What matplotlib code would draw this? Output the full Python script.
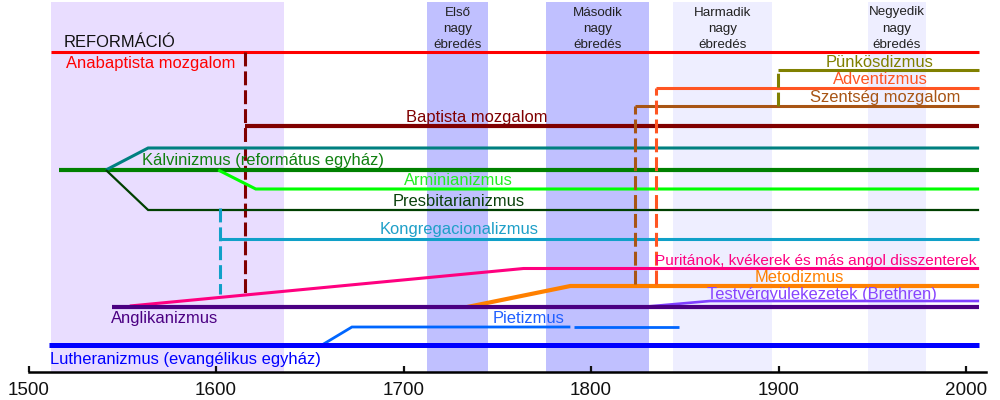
import matplotlib
matplotlib.use("Agg")
import matplotlib.pyplot as plt

plt.rcParams['font.family'] = ['Liberation Sans', 'DejaVu Sans']
plt.rcParams['lines.scale_dashes'] = False

# ---------------- data (years) ----------------
END = 2007
reformation_period = [1512, 1636]
awakening_names = [["Első", "nagy", "ébredés"],
                   ["Második", "nagy", "ébredés"],
                   ["Harmadik", "nagy", "ébredés"],
                   ["Negyedik", "nagy", "ébredés"]]
awakening_periods = [(1712.5, 1745), (1776, 1831), (1843.5, 1896.5), (1947.5, 1978.5)]

reformation_years = [1512, END]
lutheran_years = [1511, END]
pietism_years = [1656.5, 1672.5, 1789]
pietism_late_years = [1791, 1847]
anglican_years = [1544.5, END]
puritan_years = [1554, 1764, END]
methodism_years = [1734, 1789, END]
brethren_years = [1827, 1863.5, END]
calvin_years = [1516, END]
reformed_years = [1541.3, 1563.8, END]
presbyterian_years = [1541.3, 1563.8, END]
arminian_years = [1601.2, 1621.2, END]
congregational_year = 1602
congregational_years = [1602.5, END]
anabaptist_year = 1615.6
baptist_years = [1615.6, END]
holiness_years = [1823.5, END]
adventism_years = [1834.5, END]
pentecostal_years = [1899.6, END]

tick_years = [1500, 1600, 1700, 1800, 1900, 2000]

# ---------------- layout (rows in pixels from top) ----------------
ROW = dict(reform=52, pente=70, advent=88, holiness=106, baptist=126,
           reformed=148, calvin=170, arminian=189, presby=210,
           congreg=239, puritan=268.5, methodism=286, brethren=301,
           anglican=307, pietism=327, lutheran=345, axis=372)

fig = plt.figure(figsize=(10, 4), dpi=100)
ax = fig.add_axes([0, 0, 1, 1])
x0 = 1500 - 28.5 / 1.875
ax.set_xlim(x0, x0 + 1000 / 1.875)
ax.set_ylim(400, 0)

# shaded periods
ax.fill_betweenx([2, ROW['axis']], reformation_period[0], reformation_period[1],
                 color='#e9ddff', lw=0, zorder=0)
band_colors = ['#c0c0ff', '#c0c0ff', '#eeeeff', '#eeeeff']
for (a, b), c, names in zip(awakening_periods, band_colors, awakening_names):
    ax.fill_betweenx([2, ROW['axis']], a, b, color=c, lw=0, zorder=0)
    for i, s in enumerate(names):
        ax.text((a + b) / 2, 15.5 + i * 16.3, s, ha='center', va='baseline',
                fontsize=9.6, color='#222222')

def seg(xs, ys, color, lw, **kw):
    ax.plot(xs, ys, color=color, lw=lw, solid_capstyle='butt',
            solid_joinstyle='miter', **kw)

DASH = (0, (10, 3.6))
# Reformation
seg(reformation_years, [ROW['reform']] * 2, '#ff0000', 2.2)
# Anabaptist -> Baptist
seg([anabaptist_year] * 2, [ROW['reform'], 295], '#800000', 2.2, linestyle=DASH)
seg(baptist_years, [ROW['baptist']] * 2, '#800000', 3.0)
# Calvinism family
seg(calvin_years, [ROW['calvin']] * 2, '#008000', 3.0)
seg(reformed_years, [ROW['calvin'], ROW['reformed'], ROW['reformed']], '#008080', 2.2)
seg(presbyterian_years, [ROW['calvin'], ROW['presby'], ROW['presby']], '#004000', 1.6)
seg(arminian_years, [ROW['calvin'], ROW['arminian'], ROW['arminian']], '#00ff00', 2.2)
seg([congregational_year] * 2, [208, 294], '#10a0c8', 2.2, linestyle=DASH)
seg([congregational_years[0], congregational_years[0], congregational_years[1]],
    [ROW['congreg'] + 1, ROW['congreg'], ROW['congreg']], '#10a0c8', 2.2)
# Anglican family
seg(anglican_years, [ROW['anglican']] * 2, '#4b0082', 3.0, zorder=3)
seg(puritan_years, [ROW['anglican'] - 1, ROW['puritan'], ROW['puritan']], '#ff0080', 2.2)
seg(methodism_years, [ROW['anglican'], ROW['methodism'], ROW['methodism']], '#ff8000', 3.0)
seg(brethren_years, [ROW['anglican'], ROW['brethren'], ROW['brethren']], '#8040ff', 1.9)
seg([holiness_years[0]] * 2, [ROW['methodism'] - 2, ROW['holiness']], '#a85514', 2.2, linestyle=DASH)
seg(holiness_years, [ROW['holiness']] * 2, '#a85514', 2.2)
seg([adventism_years[0]] * 2, [ROW['methodism'] - 2, ROW['advent']], '#ff5522', 2.2, linestyle=DASH)
seg(adventism_years, [ROW['advent']] * 2, '#ff5522', 2.2)
seg([pentecostal_years[0]] * 2, [ROW['holiness'], ROW['pente']], '#808000', 2.2, linestyle=DASH)
seg(pentecostal_years, [ROW['pente']] * 2, '#808000', 2.2)
# Lutheran family
seg(lutheran_years, [ROW['lutheran']] * 2, '#0000ff', 3.6, zorder=3)
seg(pietism_years, [ROW['lutheran'], ROW['pietism'], ROW['pietism']], '#0066ff', 2.0)
seg(pietism_late_years, [ROW['pietism']] * 2, '#0066ff', 2.0)

# labels
FS = 11.9
def px2yr(px):
    return x0 + px / 1.875

labels = [
    ("REFORMÁCIÓ", 64, 47, 'left', '#111111', FS),
    ("Anabaptista mozgalom", 66, 68, 'left', '#ff0000', FS),
    ("Baptista mozgalom", 477, 122, 'center', '#800000', FS),
    ("Kálvinizmus (református egyház)", 141.5, 165, 'left', '#108010', FS),
    ("Arminianizmus", 458, 185, 'center', '#22ee22', FS),
    ("Presbitarianizmus", 459, 206.5, 'center', '#0a400a', FS),
    ("Kongregacionalizmus", 459, 234, 'center', '#1fa0c8', FS),
    ("Pietizmus", 528.5, 323.3, 'center', '#2060ff', FS),
    ("Anglikanizmus", 111, 322.7, 'left', '#4b0082', FS),
    ("Lutheranizmus (evangélikus egyház)", 50, 364, 'left', '#0000ff', FS),
    ("Puritánok, kvékerek és más angol disszenterek", 976, 265, 'right', '#ff0080', 11.1),
    ("Metodizmus", 799, 282, 'center', '#ff8000', FS),
    ("Testvérgyülekezetek (Brethren)", 822, 299.3, 'center', '#8844ff', FS),
    ("Pünkösdizmus", 880, 66.7, 'center', '#808000', FS),
    ("Adventizmus", 880.5, 84, 'center', '#ff5522', FS),
    ("Szentség mozgalom", 885, 101.7, 'center', '#a85514', FS),
]
for s, px, py, ha, c, fs in labels:
    ax.text(px2yr(px), py, s, ha=ha, va='baseline', fontsize=fs, color=c, zorder=5)

# time axis
for side in ['top', 'left', 'right']:
    ax.spines[side].set_visible(False)
ax.spines['bottom'].set_position(('data', ROW['axis']))
ax.spines['bottom'].set_bounds(1500, 2010.7)
ax.spines['bottom'].set_linewidth(1.8)
ax.set_xticks(tick_years)
ax.set_xticklabels([str(t) for t in tick_years])
ax.tick_params(axis='x', direction='in', length=4.5, width=1.6, labelsize=13.6,
               pad=7, colors='#111111')
ax.set_yticks([])
ax.patch.set_alpha(0)

fig.savefig("out.png", dpi=100, facecolor='white')
